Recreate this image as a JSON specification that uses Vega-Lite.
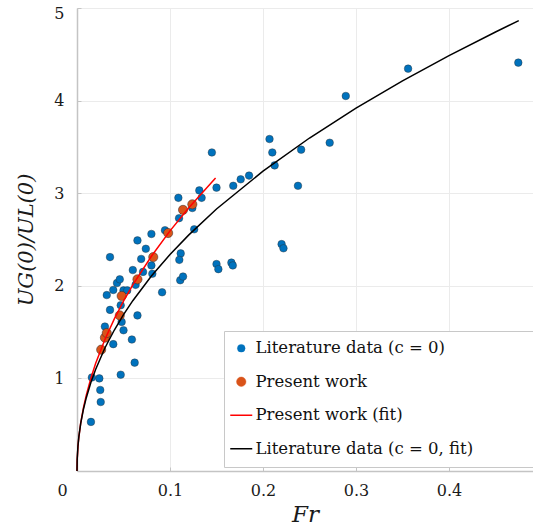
{
  "$schema": "https://vega.github.io/schema/vega-lite/v6.json",
  "width": 456,
  "height": 463,
  "autosize": {"type": "none"},
  "padding": {"left": 77, "top": 8, "right": 0, "bottom": 60},
  "background": "white",
  "config": {
    "font": "DejaVu Serif",
    "view": {"stroke": "#d4d4d4", "strokeWidth": 1},
    "axis": {
      "labelFont": "DejaVu Serif",
      "labelFontSize": 16,
      "labelColor": "#1a1a1a",
      "labelFlush": false,
      "titleFont": "DejaVu Serif",
      "titleFontSize": 23,
      "titleFontWeight": "normal",
      "titleFontStyle": "italic",
      "titleColor": "#1a1a1a",
      "domainColor": "#c4c4c4",
      "domainWidth": 1.5,
      "tickColor": "#c4c4c4",
      "tickSize": -4,
      "tickWidth": 1,
      "gridColor": "#ebebeb",
      "gridWidth": 1
    }
  },
  "datasets": {
    "lit": [
      {"Fr": 0.015, "ratio": 0.53, "series": "Literature data (c = 0)"},
      {"Fr": 0.016, "ratio": 1.01, "series": "Literature data (c = 0)"},
      {"Fr": 0.024, "ratio": 1.0, "series": "Literature data (c = 0)"},
      {"Fr": 0.025, "ratio": 0.875, "series": "Literature data (c = 0)"},
      {"Fr": 0.0255, "ratio": 0.745, "series": "Literature data (c = 0)"},
      {"Fr": 0.047, "ratio": 1.04, "series": "Literature data (c = 0)"},
      {"Fr": 0.062, "ratio": 1.17, "series": "Literature data (c = 0)"},
      {"Fr": 0.039, "ratio": 1.37, "series": "Literature data (c = 0)"},
      {"Fr": 0.059, "ratio": 1.42, "series": "Literature data (c = 0)"},
      {"Fr": 0.05, "ratio": 1.52, "series": "Literature data (c = 0)"},
      {"Fr": 0.048, "ratio": 1.61, "series": "Literature data (c = 0)"},
      {"Fr": 0.03, "ratio": 1.56, "series": "Literature data (c = 0)"},
      {"Fr": 0.065, "ratio": 1.68, "series": "Literature data (c = 0)"},
      {"Fr": 0.0355, "ratio": 1.74, "series": "Literature data (c = 0)"},
      {"Fr": 0.047, "ratio": 1.79, "series": "Literature data (c = 0)"},
      {"Fr": 0.032, "ratio": 1.9, "series": "Literature data (c = 0)"},
      {"Fr": 0.039, "ratio": 1.955, "series": "Literature data (c = 0)"},
      {"Fr": 0.043, "ratio": 2.03, "series": "Literature data (c = 0)"},
      {"Fr": 0.046, "ratio": 2.07, "series": "Literature data (c = 0)"},
      {"Fr": 0.05, "ratio": 1.95, "series": "Literature data (c = 0)"},
      {"Fr": 0.054, "ratio": 1.95, "series": "Literature data (c = 0)"},
      {"Fr": 0.06, "ratio": 2.17, "series": "Literature data (c = 0)"},
      {"Fr": 0.063, "ratio": 2.01, "series": "Literature data (c = 0)"},
      {"Fr": 0.071, "ratio": 2.15, "series": "Literature data (c = 0)"},
      {"Fr": 0.08, "ratio": 2.22, "series": "Literature data (c = 0)"},
      {"Fr": 0.081, "ratio": 2.13, "series": "Literature data (c = 0)"},
      {"Fr": 0.0915, "ratio": 1.93, "series": "Literature data (c = 0)"},
      {"Fr": 0.111, "ratio": 2.06, "series": "Literature data (c = 0)"},
      {"Fr": 0.114, "ratio": 2.1, "series": "Literature data (c = 0)"},
      {"Fr": 0.0355, "ratio": 2.31, "series": "Literature data (c = 0)"},
      {"Fr": 0.065, "ratio": 2.49, "series": "Literature data (c = 0)"},
      {"Fr": 0.069, "ratio": 2.29, "series": "Literature data (c = 0)"},
      {"Fr": 0.074, "ratio": 2.4, "series": "Literature data (c = 0)"},
      {"Fr": 0.08, "ratio": 2.56, "series": "Literature data (c = 0)"},
      {"Fr": 0.0946, "ratio": 2.6, "series": "Literature data (c = 0)"},
      {"Fr": 0.1115, "ratio": 2.35, "series": "Literature data (c = 0)"},
      {"Fr": 0.11, "ratio": 2.28, "series": "Literature data (c = 0)"},
      {"Fr": 0.1097, "ratio": 2.73, "series": "Literature data (c = 0)"},
      {"Fr": 0.109, "ratio": 2.95, "series": "Literature data (c = 0)"},
      {"Fr": 0.124, "ratio": 2.84, "series": "Literature data (c = 0)"},
      {"Fr": 0.126, "ratio": 2.61, "series": "Literature data (c = 0)"},
      {"Fr": 0.1315, "ratio": 3.03, "series": "Literature data (c = 0)"},
      {"Fr": 0.134, "ratio": 2.95, "series": "Literature data (c = 0)"},
      {"Fr": 0.145, "ratio": 3.44, "series": "Literature data (c = 0)"},
      {"Fr": 0.15, "ratio": 3.06, "series": "Literature data (c = 0)"},
      {"Fr": 0.168, "ratio": 3.08, "series": "Literature data (c = 0)"},
      {"Fr": 0.176, "ratio": 3.15, "series": "Literature data (c = 0)"},
      {"Fr": 0.185, "ratio": 3.19, "series": "Literature data (c = 0)"},
      {"Fr": 0.15, "ratio": 2.235, "series": "Literature data (c = 0)"},
      {"Fr": 0.152, "ratio": 2.18, "series": "Literature data (c = 0)"},
      {"Fr": 0.166, "ratio": 2.25, "series": "Literature data (c = 0)"},
      {"Fr": 0.1675, "ratio": 2.22, "series": "Literature data (c = 0)"},
      {"Fr": 0.207, "ratio": 3.585, "series": "Literature data (c = 0)"},
      {"Fr": 0.21, "ratio": 3.44, "series": "Literature data (c = 0)"},
      {"Fr": 0.2125, "ratio": 3.3, "series": "Literature data (c = 0)"},
      {"Fr": 0.241, "ratio": 3.47, "series": "Literature data (c = 0)"},
      {"Fr": 0.2376, "ratio": 3.08, "series": "Literature data (c = 0)"},
      {"Fr": 0.2717, "ratio": 3.545, "series": "Literature data (c = 0)"},
      {"Fr": 0.289, "ratio": 4.05, "series": "Literature data (c = 0)"},
      {"Fr": 0.356, "ratio": 4.345, "series": "Literature data (c = 0)"},
      {"Fr": 0.4745, "ratio": 4.41, "series": "Literature data (c = 0)"},
      {"Fr": 0.22, "ratio": 2.45, "series": "Literature data (c = 0)"},
      {"Fr": 0.222, "ratio": 2.405, "series": "Literature data (c = 0)"}
    ],
    "present": [
      {"Fr": 0.026, "ratio": 1.31, "series": "Present work"},
      {"Fr": 0.03, "ratio": 1.44, "series": "Present work"},
      {"Fr": 0.032, "ratio": 1.49, "series": "Present work"},
      {"Fr": 0.046, "ratio": 1.68, "series": "Present work"},
      {"Fr": 0.048, "ratio": 1.89, "series": "Present work"},
      {"Fr": 0.065, "ratio": 2.07, "series": "Present work"},
      {"Fr": 0.082, "ratio": 2.31, "series": "Present work"},
      {"Fr": 0.098, "ratio": 2.57, "series": "Present work"},
      {"Fr": 0.114, "ratio": 2.82, "series": "Present work"},
      {"Fr": 0.124, "ratio": 2.88, "series": "Present work"}
    ],
    "fitPresent": [
      {"Fr": 0, "ratio": 0, "series": "Present work (fit)"},
      {"Fr": 0.0002, "ratio": 0.116, "series": "Present work (fit)"},
      {"Fr": 0.001, "ratio": 0.259, "series": "Present work (fit)"},
      {"Fr": 0.002, "ratio": 0.367, "series": "Present work (fit)"},
      {"Fr": 0.004, "ratio": 0.519, "series": "Present work (fit)"},
      {"Fr": 0.007, "ratio": 0.686, "series": "Present work (fit)"},
      {"Fr": 0.01, "ratio": 0.82, "series": "Present work (fit)"},
      {"Fr": 0.015, "ratio": 1.004, "series": "Present work (fit)"},
      {"Fr": 0.02, "ratio": 1.16, "series": "Present work (fit)"},
      {"Fr": 0.03, "ratio": 1.42, "series": "Present work (fit)"},
      {"Fr": 0.04, "ratio": 1.64, "series": "Present work (fit)"},
      {"Fr": 0.05, "ratio": 1.834, "series": "Present work (fit)"},
      {"Fr": 0.06, "ratio": 2.009, "series": "Present work (fit)"},
      {"Fr": 0.08, "ratio": 2.319, "series": "Present work (fit)"},
      {"Fr": 0.1, "ratio": 2.593, "series": "Present work (fit)"},
      {"Fr": 0.12, "ratio": 2.841, "series": "Present work (fit)"},
      {"Fr": 0.149, "ratio": 3.165, "series": "Present work (fit)"}
    ],
    "fitLit": [
      {"Fr": 0, "ratio": 0, "series": "Literature data (c = 0, fit)"},
      {"Fr": 0.0002, "ratio": 0.126, "series": "Literature data (c = 0, fit)"},
      {"Fr": 0.001, "ratio": 0.268, "series": "Literature data (c = 0, fit)"},
      {"Fr": 0.002, "ratio": 0.372, "series": "Literature data (c = 0, fit)"},
      {"Fr": 0.004, "ratio": 0.515, "series": "Literature data (c = 0, fit)"},
      {"Fr": 0.007, "ratio": 0.67, "series": "Literature data (c = 0, fit)"},
      {"Fr": 0.01, "ratio": 0.792, "series": "Literature data (c = 0, fit)"},
      {"Fr": 0.015, "ratio": 0.959, "series": "Literature data (c = 0, fit)"},
      {"Fr": 0.02, "ratio": 1.097, "series": "Literature data (c = 0, fit)"},
      {"Fr": 0.03, "ratio": 1.328, "series": "Literature data (c = 0, fit)"},
      {"Fr": 0.04, "ratio": 1.52, "series": "Literature data (c = 0, fit)"},
      {"Fr": 0.05, "ratio": 1.688, "series": "Literature data (c = 0, fit)"},
      {"Fr": 0.06, "ratio": 1.839, "series": "Literature data (c = 0, fit)"},
      {"Fr": 0.08, "ratio": 2.105, "series": "Literature data (c = 0, fit)"},
      {"Fr": 0.1, "ratio": 2.338, "series": "Literature data (c = 0, fit)"},
      {"Fr": 0.12, "ratio": 2.547, "series": "Literature data (c = 0, fit)"},
      {"Fr": 0.15, "ratio": 2.829, "series": "Literature data (c = 0, fit)"},
      {"Fr": 0.2, "ratio": 3.238, "series": "Literature data (c = 0, fit)"},
      {"Fr": 0.25, "ratio": 3.596, "series": "Literature data (c = 0, fit)"},
      {"Fr": 0.3, "ratio": 3.918, "series": "Literature data (c = 0, fit)"},
      {"Fr": 0.35, "ratio": 4.213, "series": "Literature data (c = 0, fit)"},
      {"Fr": 0.4, "ratio": 4.486, "series": "Literature data (c = 0, fit)"},
      {"Fr": 0.45, "ratio": 4.741, "series": "Literature data (c = 0, fit)"},
      {"Fr": 0.475, "ratio": 4.863, "series": "Literature data (c = 0, fit)"}
    ]
  },
  "encoding": {
    "x": {
      "field": "Fr",
      "type": "quantitative",
      "scale": {"domain": [0, 0.4903], "nice": false, "zero": true},
      "axis": {
        "values": [0, 0.1, 0.2, 0.3, 0.4],
        "format": "~g",
        "title": "Fr",
        "labelPadding": 15,
        "titlePadding": 5,
        "labelOffset": {"condition": {"test": "datum.value === 0", "value": -15}, "value": 0}
      }
    },
    "y": {
      "field": "ratio",
      "type": "quantitative",
      "scale": {"domain": [0, 5], "nice": false},
      "axis": {
        "values": [0, 1, 2, 3, 4, 5],
        "labelExpr": "datum.value === 0 ? '' : datum.label",
        "title": "UG(0)/UL(0)",
        "titleFontSize": 21,
        "labelPadding": 17,
        "titlePadding": 17,
        "labelOffset": {"condition": {"test": "datum.value === 5", "value": 5}, "value": 0}
      }
    },
    "color": {
      "field": "series",
      "type": "nominal",
      "scale": {
        "domain": ["Literature data (c = 0)", "Present work", "Present work (fit)", "Literature data (c = 0, fit)"],
        "range": ["#0072BD", "#D95319", "#FF0000", "#000000"]
      },
      "legend": {
        "title": null,
        "orient": "none",
        "legendX": 147,
        "legendY": 323,
        "fillColor": "white",
        "strokeColor": "#c8c8c8",
        "padding": 9,
        "labelFont": "DejaVu Serif",
        "labelFontSize": 16.5,
        "labelColor": "#111111",
        "labelOffset": 6,
        "labelLimit": 600,
        "labelExpr": "datum.label + '\u00a0\u00a0\u00a0\u00a0\u00a0\u00a0\u00a0\u00a0\u00a0\u00a0\u200b'",
        "rowPadding": 16.5,
        "symbolSize": 484,
        "encode": {
          "symbols": {
            "update": {
              "shape": {"signal": "test(/fit/, datum.value) ? 'stroke' : 'circle'"},
              "size": {"signal": "test(/fit/, datum.value) ? 484 : (datum.value === 'Present work' ? 90 : 60)"},
              "fill": {"signal": "test(/fit/, datum.value) ? 'transparent' : scale('color', datum.value)"},
              "stroke": {"signal": "test(/fit/, datum.value) ? scale('color', datum.value) : '#2b2b2b'"},
              "strokeWidth": {"signal": "test(/fit/, datum.value) ? 1.5 : 0.4"},
              "opacity": {"value": 1}
            }
          }
        }
      }
    }
  },
  "layer": [
    {
      "data": {"name": "lit"},
      "mark": {"type": "point", "filled": true, "size": 58, "opacity": 1, "stroke": "#2b2b2b", "strokeWidth": 0.4}
    },
    {
      "data": {"name": "present"},
      "mark": {"type": "point", "filled": true, "size": 85, "opacity": 1, "stroke": "#2b2b2b", "strokeWidth": 0.5}
    },
    {
      "data": {"name": "fitPresent"},
      "mark": {"type": "line", "strokeWidth": 1.5}
    },
    {
      "data": {"name": "fitLit"},
      "mark": {"type": "line", "strokeWidth": 1.5}
    }
  ]
}
